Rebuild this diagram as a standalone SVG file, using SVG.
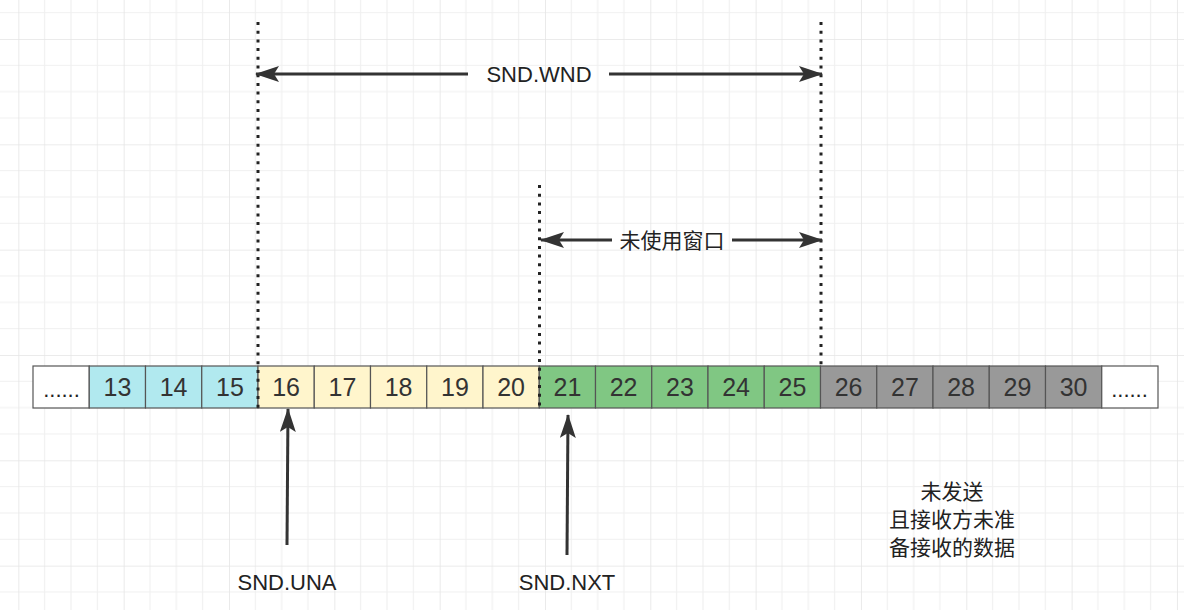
<svg xmlns="http://www.w3.org/2000/svg" width="1184" height="610" viewBox="0 0 1184 610">
<defs>
<pattern id="grid" x="18.33" y="39" width="105.33" height="105.33" patternUnits="userSpaceOnUse">
<path d="M26.33 0V105.33M52.67 0V105.33M79 0V105.33M0 26.33H105.33M0 52.67H105.33M0 79H105.33" stroke="#f0f0f0" stroke-width="1.2" fill="none"/>
<path d="M0 0V105.33M0 0H105.33" stroke="#e5e5e5" stroke-width="1.6" fill="none"/>
</pattern>
<marker id="ah" viewBox="0 0 24 16" refX="23" refY="8" markerWidth="24" markerHeight="16" markerUnits="userSpaceOnUse" orient="auto">
<path d="M0 0L24 8L0 16L5 8Z" fill="#333"/>
</marker>
<marker id="ahs" viewBox="0 0 24 16" refX="1" refY="8" markerWidth="24" markerHeight="16" markerUnits="userSpaceOnUse" orient="auto">
<path d="M24 0L0 8L24 16L19 8Z" fill="#333"/>
</marker>
</defs>
<style>
.cell{stroke:#555;stroke-width:1.2}
.num{font-family:"Liberation Sans",Arial,sans-serif;font-size:25px;fill:#333;text-anchor:middle}
.lbl{font-family:"Liberation Sans",Arial,sans-serif;font-size:22px;fill:#222;text-anchor:middle}
.cjk{font-family:"Liberation Sans","Noto Sans CJK SC",sans-serif;font-size:21px;fill:#222;text-anchor:middle}
.dot{stroke:#222;stroke-width:3;stroke-dasharray:3 5.7;fill:none}
.arr{stroke:#333;stroke-width:3;fill:none}
.blue{fill:#b1e9ef}.yel{fill:#fff5cc}.grn{fill:#80c783}.gry{fill:#999}.wht{fill:#fff}
</style>
<rect width="1184" height="610" fill="#fff"/>
<rect width="1184" height="610" fill="url(#grid)"/>
<g id="cells">
<g id="c-dots-l"><rect class="cell wht" x="33" y="366" width="56.25" height="42"/><text class="lbl" x="61.5" y="397" font-size="24">......</text></g>
<g id="c13"><rect class="cell blue" x="89.25" y="366" width="56.25" height="42"/><text class="num" x="117.4" y="396">13</text></g>
<g id="c14"><rect class="cell blue" x="145.5" y="366" width="56.25" height="42"/><text class="num" x="173.6" y="396">14</text></g>
<g id="c15"><rect class="cell blue" x="201.75" y="366" width="56.25" height="42"/><text class="num" x="229.9" y="396">15</text></g>
<g id="c16"><rect class="cell yel" x="258" y="366" width="56.25" height="42"/><text class="num" x="286.1" y="396">16</text></g>
<g id="c17"><rect class="cell yel" x="314.25" y="366" width="56.25" height="42"/><text class="num" x="342.4" y="396">17</text></g>
<g id="c18"><rect class="cell yel" x="370.5" y="366" width="56.25" height="42"/><text class="num" x="398.6" y="396">18</text></g>
<g id="c19"><rect class="cell yel" x="426.75" y="366" width="56.25" height="42"/><text class="num" x="454.9" y="396">19</text></g>
<g id="c20"><rect class="cell yel" x="483" y="366" width="56.25" height="42"/><text class="num" x="511.1" y="396">20</text></g>
<g id="c21"><rect class="cell grn" x="539.25" y="366" width="56.25" height="42"/><text class="num" x="567.4" y="396">21</text></g>
<g id="c22"><rect class="cell grn" x="595.5" y="366" width="56.25" height="42"/><text class="num" x="623.6" y="396">22</text></g>
<g id="c23"><rect class="cell grn" x="651.75" y="366" width="56.25" height="42"/><text class="num" x="679.9" y="396">23</text></g>
<g id="c24"><rect class="cell grn" x="708" y="366" width="56.25" height="42"/><text class="num" x="736.1" y="396">24</text></g>
<g id="c25"><rect class="cell grn" x="764.25" y="366" width="56.25" height="42"/><text class="num" x="792.4" y="396">25</text></g>
<g id="c26"><rect class="cell gry" x="820.5" y="366" width="56.25" height="42"/><text class="num" x="848.6" y="396">26</text></g>
<g id="c27"><rect class="cell gry" x="876.75" y="366" width="56.25" height="42"/><text class="num" x="904.9" y="396">27</text></g>
<g id="c28"><rect class="cell gry" x="933" y="366" width="56.25" height="42"/><text class="num" x="961.1" y="396">28</text></g>
<g id="c29"><rect class="cell gry" x="989.25" y="366" width="56.25" height="42"/><text class="num" x="1017.4" y="396">29</text></g>
<g id="c30"><rect class="cell gry" x="1045.5" y="366" width="56.25" height="42"/><text class="num" x="1073.6" y="396">30</text></g>
<g id="c-dots-r"><rect class="cell wht" x="1101.75" y="366" width="56.25" height="42"/><text class="lbl" x="1129.5" y="397" font-size="24">......</text></g>
</g>
<g id="connectors">
<line class="dot" x1="258" y1="22" x2="258" y2="408"/>
<line class="dot" x1="821" y1="22" x2="821" y2="366"/>
<line class="dot" x1="539.5" y1="185" x2="539.5" y2="408"/>
<line class="arr" x1="256" y1="74" x2="468" y2="74" marker-start="url(#ahs)"/>
<line class="arr" x1="609" y1="74" x2="822" y2="74" marker-end="url(#ah)"/>
<line class="arr" x1="541" y1="240" x2="612" y2="240" marker-start="url(#ahs)"/>
<line class="arr" x1="732" y1="240" x2="822" y2="240" marker-end="url(#ah)"/>
<line class="arr" x1="287" y1="545" x2="288" y2="409" marker-end="url(#ah)"/>
<line class="arr" x1="567" y1="555" x2="568" y2="415" marker-end="url(#ah)"/>
</g>
<g id="labels">
<text id="snd-wnd" class="lbl" x="539" y="82">SND.WND</text>
<text id="unused" class="cjk" x="672" y="248" font-size="22">未使用窗口</text>
<text id="snd-una" class="lbl" x="287" y="590">SND.UNA</text>
<text id="snd-nxt" class="lbl" x="567" y="590">SND.NXT</text>
<text id="note" class="cjk"><tspan x="952" y="499">未发送</tspan><tspan x="952" y="527">且接收方未准</tspan><tspan x="952" y="555">备接收的数据</tspan></text>
</g>
</svg>
